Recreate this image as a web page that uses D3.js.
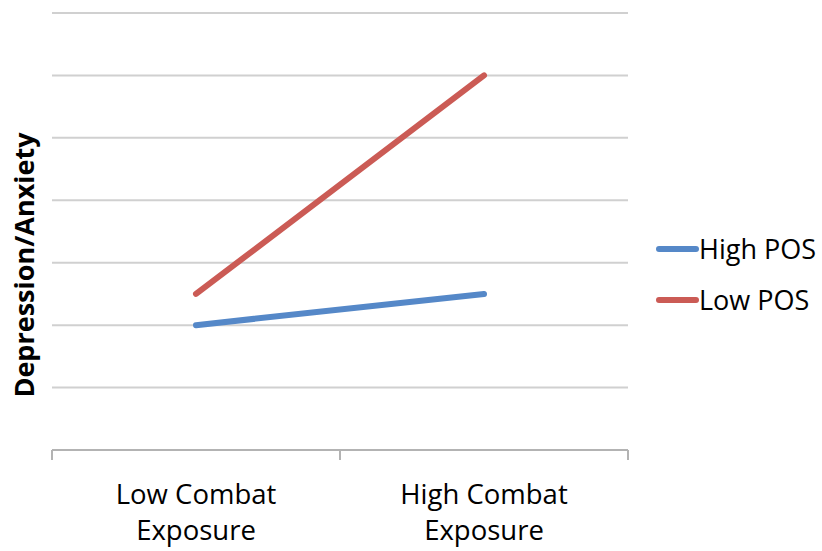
<!DOCTYPE html>
<html>
<head>
<meta charset="utf-8">
<script src="https://cdn.jsdelivr.net/npm/d3@7"></script>
<style>
  html, body { margin: 0; padding: 0; background: #fff; }
  svg { display: block; }
  text { font-family: "Open Sans", sans-serif; fill: #000; }
</style>
</head>
<body>
<svg id="chart" width="822" height="551"></svg>
<script>
const categories = [["Low Combat", "Exposure"], ["High Combat", "Exposure"]];
const categoryKeys = ["Low Combat Exposure", "High Combat Exposure"];
const seriesNames = ["High POS", "Low POS"];
const highPOS = [2, 2.5];
const lowPOS = [2.5, 6];
const gridValues = [1, 2, 3, 4, 5, 6, 7];
const yTitle = "Depression/Anxiety";

const colors = ["#5588C8", "#CB5B55"];
const seriesValues = [highPOS, lowPOS];

const svg = d3.select("#chart");
const plotLeft = 52, plotRight = 628, plotTop = 13, plotBottom = 450;

const x = d3.scaleBand().domain(categoryKeys).range([plotLeft, plotRight]).paddingInner(0).paddingOuter(0);
const y = d3.scaleLinear().domain([0, 7]).range([plotBottom, plotTop]);

// gridlines
svg.append("g").selectAll("line").data(gridValues).join("line")
  .attr("x1", plotLeft).attr("x2", plotRight)
  .attr("y1", d => y(d)).attr("y2", d => y(d))
  .attr("stroke", "#d0d0d0").attr("stroke-width", 2);

// x axis
svg.append("line").attr("x1", plotLeft).attr("x2", plotRight)
  .attr("y1", plotBottom).attr("y2", plotBottom)
  .attr("stroke", "#b3b3b3").attr("stroke-width", 2);
const tickXs = categoryKeys.map(c => x(c)).concat([x(categoryKeys[categoryKeys.length - 1]) + x.bandwidth()]);
svg.append("g").selectAll("line").data(tickXs).join("line")
  .attr("x1", d => d).attr("x2", d => d)
  .attr("y1", plotBottom).attr("y2", plotBottom + 10)
  .attr("stroke", "#b3b3b3").attr("stroke-width", 2);

// category labels
const labels = svg.append("g").selectAll("text").data(categories).join("text")
  .attr("text-anchor", "middle")
  .attr("font-size", 27.5)
  .attr("fill", "#000");
labels.each(function(d, i) {
  const cx = x(categoryKeys[i]) + x.bandwidth() / 2;
  const t = d3.select(this);
  d.forEach((line, j) => {
    t.append("tspan").attr("x", cx).attr("y", 504 + j * 36).text(line);
  });
});

// lines
const lineGen = d3.line()
  .x((d, i) => x(categoryKeys[i]) + x.bandwidth() / 2)
  .y(d => y(d));
svg.append("g").selectAll("path").data(seriesValues).join("path")
  .attr("d", d => lineGen(d))
  .attr("fill", "none")
  .attr("stroke", (d, i) => colors[i])
  .attr("stroke-width", 6)
  .attr("stroke-linecap", "round")
  .attr("stroke-linejoin", "round");

// y title
svg.append("text")
  .attr("transform", "translate(34,265) rotate(-90)")
  .attr("text-anchor", "middle")
  .attr("font-size", 27)
  .attr("font-weight", "bold")
  .text(yTitle);

// legend
const legend = svg.append("g").selectAll("g").data(seriesNames).join("g")
  .attr("transform", (d, i) => `translate(0, ${249 + i * 51})`);
legend.append("line")
  .attr("x1", 659).attr("x2", 696).attr("y1", 0).attr("y2", 0)
  .attr("stroke", (d, i) => colors[i]).attr("stroke-width", 6)
  .attr("stroke-linecap", "round");
legend.append("text")
  .attr("x", 699).attr("y", 10)
  .attr("font-size", 27)
  .text(d => d);
</script>
</body>
</html>
